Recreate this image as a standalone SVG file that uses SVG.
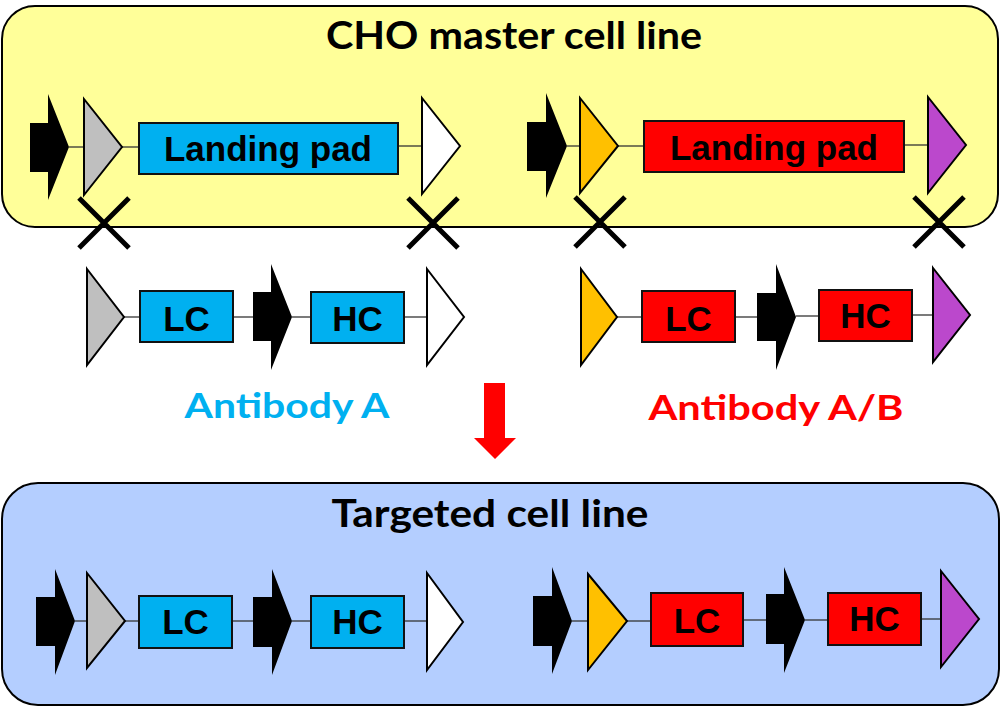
<svg xmlns="http://www.w3.org/2000/svg" width="1000" height="707" viewBox="0 0 1000 707">
<style>
.panel{stroke:#000;stroke-width:2}
.gene{stroke:#111;stroke-width:2}
.blue{fill:#00B0F0}
.red{fill:#FF0000}
.prom{fill:#000}
.tri{stroke:#000;stroke-width:2;stroke-linejoin:miter}
.gray{fill:#BFBFBF}
.white{fill:#FFF}
.orange{fill:#FFC000}
.purple{fill:#BB48CC}
.lbl{font-family:"Liberation Sans",Arial,sans-serif;font-weight:bold;font-size:35px;fill:#000;text-anchor:middle}
.title{font-family:Lato,"Open Sans",sans-serif;font-weight:bold;font-size:38px;fill:#000;text-anchor:middle}
.ab{font-family:Lato,"Open Sans",sans-serif;font-weight:bold;font-size:34px;text-anchor:middle}
.x{stroke:#000;stroke-width:5}
.conn line{stroke:#333;stroke-width:1.3}
</style>

<g id="master-panel">
<rect class="panel" x="2" y="6" width="996" height="221" rx="33" fill="#FFFF99"/>
<text class="title" x="514" y="49" textLength="376" lengthAdjust="spacingAndGlyphs">CHO master cell line</text>
</g>
<g id="targeted-panel">
<rect class="panel" x="2" y="483" width="997" height="222" rx="36" fill="#B4CEFF"/>
<text class="title" x="490" y="527" textLength="317" lengthAdjust="spacingAndGlyphs">Targeted cell line</text>
</g>

<g class="conn" id="connectors">
<line x1="69" y1="147" x2="84" y2="147"/><line x1="122" y1="147" x2="139" y2="147"/><line x1="398" y1="146" x2="422" y2="146"/>
<line x1="567" y1="146" x2="580" y2="146"/><line x1="618" y1="146" x2="644" y2="146"/><line x1="904" y1="145" x2="928" y2="145"/>
<line x1="124" y1="317" x2="140" y2="317"/><line x1="233" y1="317" x2="253" y2="317"/><line x1="292" y1="317" x2="311" y2="317"/><line x1="404" y1="317" x2="427" y2="317"/>
<line x1="617" y1="317" x2="642" y2="317"/><line x1="735" y1="317" x2="757" y2="317"/><line x1="796" y1="316" x2="819" y2="316"/><line x1="912" y1="315" x2="933" y2="315"/>
<line x1="75" y1="621" x2="87" y2="621"/><line x1="125" y1="621" x2="139" y2="621"/><line x1="232" y1="621" x2="253" y2="621"/><line x1="292" y1="621" x2="311" y2="621"/><line x1="404" y1="621" x2="427" y2="621"/>
<line x1="572" y1="621" x2="588" y2="621"/><line x1="627" y1="621" x2="651" y2="621"/><line x1="743" y1="620" x2="766" y2="620"/><line x1="805" y1="620" x2="828" y2="620"/><line x1="921" y1="619" x2="941" y2="619"/>
</g>

<!-- Top row: master cell line -->
<g id="m-prom1"><polygon class="prom" points="30,123 48,123 48,94 69,147 48,200 48,172 30,172"/></g>
<g id="m-site-gray"><polygon class="tri gray" points="84,99 122,147 84,195"/></g>
<g id="m-lp-blue"><rect class="gene blue" x="139" y="123" width="259" height="51"/><text class="lbl" x="268" y="161">Landing pad</text></g>
<g id="m-site-white"><polygon class="tri white" points="422,98 460,146 422,194"/></g>

<g id="m-prom2"><polygon class="prom" points="527,122 546,122 546,93 567,146 546,198 546,171 527,171"/></g>
<g id="m-site-orange"><polygon class="tri orange" points="580,98 618,146 580,193"/></g>
<g id="m-lp-red"><rect class="gene red" x="644" y="121" width="260" height="51"/><text class="lbl" x="774" y="160">Landing pad</text></g>
<g id="m-site-purple"><polygon class="tri purple" points="928,97 966,145 928,193"/></g>

<g id="crosses">
<path class="x" d="M79,198 L129,248 M129,198 L79,248"/>
<path class="x" d="M408,198 L458,248 M458,198 L408,248"/>
<path class="x" d="M575,197 L625,247 M625,197 L575,247"/>
<path class="x" d="M914,197 L964,247 M964,197 L914,247"/>
</g>

<!-- Middle row: donor constructs -->
<g id="d-site-gray"><polygon class="tri gray" points="87,269 124,317 87,365"/></g>
<g id="d-lc-blue"><rect class="gene blue" x="140" y="291" width="93" height="51"/><text class="lbl" x="186.5" y="331">LC</text></g>
<g id="d-prom1"><polygon class="prom" points="253,292 271,292 271,264 292,317 271,370 271,341 253,341"/></g>
<g id="d-hc-blue"><rect class="gene blue" x="311" y="292" width="93" height="51"/><text class="lbl" x="357.5" y="331">HC</text></g>
<g id="d-site-white"><polygon class="tri white" points="427,269 464,317 427,365"/></g>

<g id="d-site-orange"><polygon class="tri orange" points="581,269 617,317 581,365"/></g>
<g id="d-lc-red"><rect class="gene red" x="642" y="291" width="93" height="51"/><text class="lbl" x="688.5" y="331">LC</text></g>
<g id="d-prom2"><polygon class="prom" points="757,293 776,293 776,264 796,317 776,370 776,341 757,341"/></g>
<g id="d-hc-red"><rect class="gene red" x="819" y="290" width="93" height="51"/><text class="lbl" x="865.5" y="328">HC</text></g>
<g id="d-site-purple"><polygon class="tri purple" points="933,268 970,315 933,362"/></g>

<g id="label-a"><text class="ab" x="287" y="418" fill="#00B0F0" textLength="205" lengthAdjust="spacingAndGlyphs">Antibody A</text></g>
<g id="label-ab"><text class="ab" x="776" y="420" fill="#FF0000" textLength="255" lengthAdjust="spacingAndGlyphs">Antibody A/B</text></g>

<g id="down-arrow"><polygon fill="#FF0000" points="484,383 505,383 505,438 516,438 495,459 474,438 484,438"/></g>

<!-- Bottom row: targeted cell line -->
<g id="t-prom1"><polygon class="prom" points="36,597 55,597 55,569 75,621 55,675 55,646 36,646"/></g>
<g id="t-site-gray"><polygon class="tri gray" points="87,573 125,621 87,668"/></g>
<g id="t-lc-blue"><rect class="gene blue" x="139" y="596" width="93" height="52"/><text class="lbl" x="185.5" y="634">LC</text></g>
<g id="t-prom2"><polygon class="prom" points="253,597 272,597 272,569 292,621 272,675 272,647 253,647"/></g>
<g id="t-hc-blue"><rect class="gene blue" x="311" y="596" width="93" height="52"/><text class="lbl" x="357.5" y="634">HC</text></g>
<g id="t-site-white"><polygon class="tri white" points="427,573 463,622 427,670"/></g>

<g id="t-prom3"><polygon class="prom" points="533,596 552,596 552,567 572,621 552,674 552,646 533,646"/></g>
<g id="t-site-orange"><polygon class="tri orange" points="588,574 627,621 588,670"/></g>
<g id="t-lc-red"><rect class="gene red" x="651" y="593" width="92" height="53"/><text class="lbl" x="697" y="633">LC</text></g>
<g id="t-prom4"><polygon class="prom" points="766,594 784,594 784,567 805,620 784,673 784,644 766,644"/></g>
<g id="t-hc-red"><rect class="gene red" x="828" y="593" width="93" height="52"/><text class="lbl" x="874.5" y="631">HC</text></g>
<g id="t-site-purple"><polygon class="tri purple" points="941,571 979,619 941,667"/></g>
</svg>
